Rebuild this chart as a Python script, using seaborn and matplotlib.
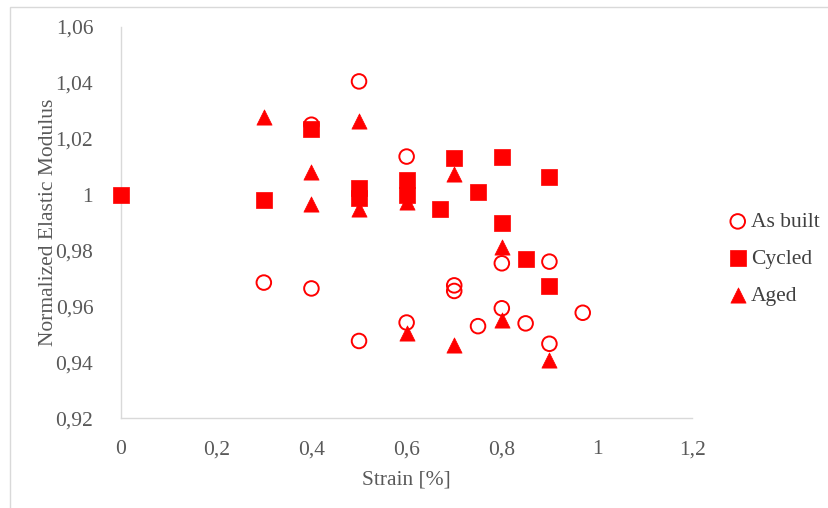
import numpy as np
import pandas as pd
import matplotlib
matplotlib.use("Agg")
import matplotlib.pyplot as plt
import seaborn as sns
from matplotlib.ticker import FuncFormatter, MultipleLocator
from matplotlib.patches import Rectangle

# values
built_strain = [0.4, 0.5, 0.6, 0.3, 0.4, 0.5, 0.6, 0.7, 0.7, 0.75, 0.8, 0.8, 0.85, 0.9, 0.9, 0.97]
built_modulus = [1.025, 1.0405, 1.0136, 0.9685, 0.9664, 0.9476, 0.9542, 0.9675, 0.9655, 0.9529, 0.9754, 0.9593, 0.9539, 0.9760, 0.9466, 0.9577]

cycled_strain = [0.0, 0.3, 0.4, 0.5, 0.5, 0.6, 0.6, 0.67, 0.7, 0.75, 0.8, 0.8, 0.9, 0.85, 0.9]
cycled_modulus = [1.0, 0.998, 1.0233, 1.0022, 0.9988, 1.0051, 0.9999, 0.995, 1.0132, 1.001, 1.0136, 0.9898, 1.0064, 0.9771, 0.9671]

aged_strain = [0.3, 0.4, 0.4, 0.5, 0.5, 0.6, 0.7, 0.8, 0.6, 0.7, 0.8, 0.9]
aged_modulus = [1.0276, 1.0081, 0.9967, 1.0265, 0.9948, 0.9972, 1.0075, 0.9812, 0.9506, 0.9460, 0.9551, 0.9407]

df = pd.concat([
    pd.DataFrame({"strain": built_strain, "modulus": built_modulus, "group": "As built"}),
    pd.DataFrame({"strain": cycled_strain, "modulus": cycled_modulus, "group": "Cycled"}),
    pd.DataFrame({"strain": aged_strain, "modulus": aged_modulus, "group": "Aged"}),
])

sns.set_style("white")
plt.rcParams["font.family"] = ["Liberation Serif", "DejaVu Serif"]

fig = plt.figure(figsize=(8.29, 5.08), dpi=100)
ax = fig.add_axes([0.146, 0.177, 0.689, 0.770])

# frame around the whole chart
fig.patches.append(Rectangle((10 / 829, -0.1), 1.2, 1.1 - 7 / 508, transform=fig.transFigure,
                             fill=False, edgecolor="#d9d9d9", linewidth=1.0))

red = "#ff0000"
sns.scatterplot(data=df[df.group == "As built"], x="strain", y="modulus", marker="o", s=110,
                facecolor="none", edgecolor=red, linewidth=1.4, ax=ax, label="As built",
                zorder=3, clip_on=False)
sns.scatterplot(data=df[df.group == "Cycled"], x="strain", y="modulus", marker="s", s=130,
                color=red, edgecolor=red, linewidth=0.5, ax=ax, label="Cycled",
                zorder=3, clip_on=False)
sns.scatterplot(data=df[df.group == "Aged"], x="strain", y="modulus", marker="^", s=120,
                color=red, edgecolor=red, linewidth=0.5, ax=ax, label="Aged",
                zorder=3, clip_on=False)

ax.set_xlim(0, 1.2)
ax.set_ylim(0.92, 1.06)
ax.xaxis.set_major_locator(MultipleLocator(0.2))
ax.yaxis.set_major_locator(MultipleLocator(0.02))
fmt = FuncFormatter(lambda v, p: f"{round(v, 2):g}".replace(".", ","))
ax.xaxis.set_major_formatter(fmt)
ax.yaxis.set_major_formatter(fmt)

for side in ["top", "right"]:
    ax.spines[side].set_visible(False)
for side in ["left", "bottom"]:
    ax.spines[side].set_color("#d9d9d9")
    ax.spines[side].set_linewidth(1.0)

ax.tick_params(axis="both", length=0, labelsize=15.5, colors="#595959")
ax.tick_params(axis="x", pad=16)
ax.tick_params(axis="y", pad=20)
ax.set_xlabel("Strain [%]", fontsize=15.5, color="#595959", labelpad=8)
ax.set_ylabel("Normalized Elastic Modulus", fontsize=15.5, color="#595959", labelpad=-2)

leg = ax.legend(loc="center left", bbox_to_anchor=(1.042, 0.407), frameon=False, fontsize=15.5,
                handlelength=1.0, handletextpad=0.1, borderpad=0, labelspacing=0.78,
                markerscale=1.0)
for t in leg.get_texts():
    t.set_color("#404040")

fig.savefig("out.png", dpi=100)
